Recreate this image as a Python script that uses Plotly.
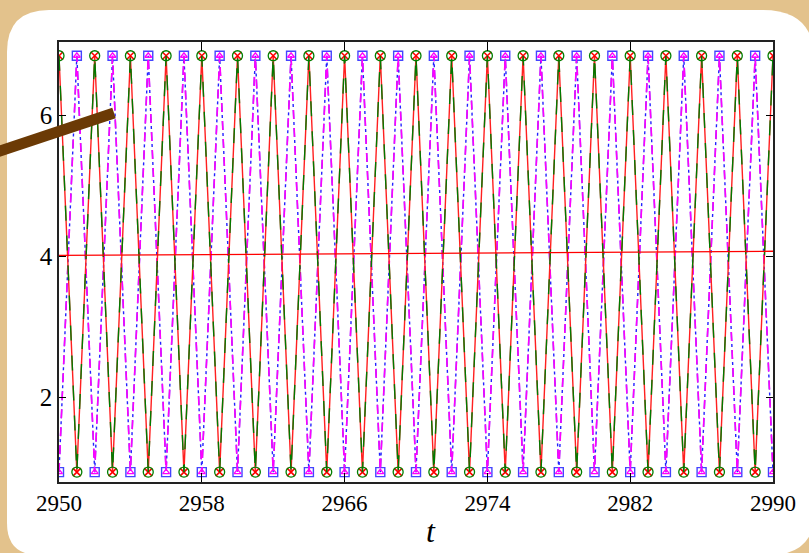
import plotly.graph_objects as go

# ---------------- data ----------------
t = [2950, 2951, 2952, 2953, 2954, 2955, 2956, 2957, 2958, 2959,
     2960, 2961, 2962, 2963, 2964, 2965, 2966, 2967, 2968, 2969,
     2970, 2971, 2972, 2973, 2974, 2975, 2976, 2977, 2978, 2979,
     2980, 2981, 2982, 2983, 2984, 2985, 2986, 2987, 2988, 2989, 2990]

red_vals = [6.84, 0.94, 6.84, 0.94, 6.84, 0.94, 6.84, 0.94, 6.84, 0.94,
            6.84, 0.94, 6.84, 0.94, 6.84, 0.94, 6.84, 0.94, 6.84, 0.94,
            6.84, 0.94, 6.84, 0.94, 6.84, 0.94, 6.84, 0.94, 6.84, 0.94,
            6.84, 0.94, 6.84, 0.94, 6.84, 0.94, 6.84, 0.94, 6.84, 0.94, 6.84]
green_vals = [6.84, 0.94, 6.84, 0.94, 6.84, 0.94, 6.84, 0.94, 6.84, 0.94,
              6.84, 0.94, 6.84, 0.94, 6.84, 0.94, 6.84, 0.94, 6.84, 0.94,
              6.84, 0.94, 6.84, 0.94, 6.84, 0.94, 6.84, 0.94, 6.84, 0.94,
              6.84, 0.94, 6.84, 0.94, 6.84, 0.94, 6.84, 0.94, 6.84, 0.94, 6.84]
blue_vals = [0.94, 6.84, 0.94, 6.84, 0.94, 6.84, 0.94, 6.84, 0.94, 6.84,
             0.94, 6.84, 0.94, 6.84, 0.94, 6.84, 0.94, 6.84, 0.94, 6.84,
             0.94, 6.84, 0.94, 6.84, 0.94, 6.84, 0.94, 6.84, 0.94, 6.84,
             0.94, 6.84, 0.94, 6.84, 0.94, 6.84, 0.94, 6.84, 0.94, 6.84, 0.94]
magenta_vals = [0.94, 6.84, 0.94, 6.84, 0.94, 6.84, 0.94, 6.84, 0.94, 6.84,
                0.94, 6.84, 0.94, 6.84, 0.94, 6.84, 0.94, 6.84, 0.94, 6.84,
                0.94, 6.84, 0.94, 6.84, 0.94, 6.84, 0.94, 6.84, 0.94, 6.84,
                0.94, 6.84, 0.94, 6.84, 0.94, 6.84, 0.94, 6.84, 0.94, 6.84, 0.94]

mean_t = [2950, 2990]
mean_vals = [4.01, 4.07]

x_ticks = [2950, 2958, 2966, 2974, 2982, 2990]
y_ticks = [2, 4, 6]

SERIF = "Liberation Serif"

# ---------------- layout geometry ----------------
W, H = 809, 553
ML, MR, MT, MB = 59, 36, 42, 71
PW = W - ML - MR
PH = H - MT - MB


def px(xp):
    return (xp - ML) / PW


def py(yp):
    return (H - MB - yp) / PH


fig = go.Figure()

fig.add_trace(go.Scatter(x=t, y=blue_vals, mode="lines+markers",
                         line=dict(color="#2222ff", width=1.4, dash="dashdot"),
                         marker=dict(symbol="square-open", size=9,
                                     color="#4444ff", line=dict(width=1.4))))
fig.add_trace(go.Scatter(x=t, y=magenta_vals, mode="lines+markers",
                         line=dict(color="#ff00ff", width=1.6, dash="dash"),
                         marker=dict(symbol="triangle-up-open", size=6,
                                     color="#ff00ff", line=dict(width=1.3))))
fig.add_trace(go.Scatter(x=t, y=red_vals, mode="lines+markers",
                         line=dict(color="#ff2020", width=1.4),
                         marker=dict(symbol="x-thin-open", size=8,
                                     color="#ff0000", line=dict(width=1.6, color="#ff0000"))))
fig.add_trace(go.Scatter(x=t, y=green_vals, mode="lines+markers",
                         line=dict(color="#007a00", width=1.4, dash="longdash"),
                         marker=dict(symbol="circle-open", size=10,
                                     color="#008000", line=dict(width=1.3))))
fig.add_trace(go.Scatter(x=mean_t, y=mean_vals, mode="lines",
                         line=dict(color="#ff0000", width=1.3)))

# white rounded panel (pixel geometry -> paper coords), per-corner radii
L, T, R, B = 7, 10, 815, 555
r_tl, r_tr, r_br, r_bl = 42, 52, 45, 32
pts = [
    ("M", [(L + r_tl, T)]), ("L", [(R - r_tr, T)]), ("Q", [(R, T), (R, T + r_tr)]),
    ("L", [(R, B - r_br)]), ("Q", [(R, B), (R - r_br, B)]), ("L", [(L + r_bl, B)]),
    ("Q", [(L, B), (L, B - r_bl)]), ("L", [(L, T + r_tl)]), ("Q", [(L, T), (L + r_tl, T)]),
]
path = ""
for cmd, plist in pts:
    path += cmd + " " + " ".join(f"{px(a):.5f},{py(b):.5f}" for a, b in plist) + " "
path += "Z"

shapes = [
    dict(type="path", path=path, xref="paper", yref="paper",
         fillcolor="white", line=dict(width=0), layer="below"),
    dict(type="line", xref="paper", yref="paper",
         x0=px(-3), y0=py(152), x1=px(114), y1=py(113),
         line=dict(color="#6b3a05", width=11), layer="above"),
]

fig.update_layout(
    width=W, height=H,
    margin=dict(l=ML, r=MR, t=MT, b=MB),
    paper_bgcolor="#e3c28c",
    plot_bgcolor="white",
    showlegend=False,
    shapes=shapes,
    annotations=[dict(text="t", xref="paper", yref="paper",
                      x=px(431), y=py(531), showarrow=False,
                      xanchor="center", yanchor="middle",
                      font=dict(family=SERIF, size=32, color="black",
                                style="italic"))],
)
fig.update_xaxes(range=[2950, 2990], tickvals=x_ticks, ticks="inside", ticklen=9,
                 tickcolor="black", showline=True, linecolor="#222", linewidth=1.5,
                 mirror="ticks", showgrid=False, zeroline=False,
                 tickfont=dict(family=SERIF, size=23, color="black"))
fig.update_yaxes(range=[0.80, 7.035], tickvals=y_ticks, ticks="inside", ticklen=7,
                 tickcolor="black", showline=True, linecolor="#222", linewidth=1.5,
                 mirror="ticks", showgrid=False, zeroline=False,
                 tickfont=dict(family=SERIF, size=25, color="black"))

fig.write_html("out.html")
